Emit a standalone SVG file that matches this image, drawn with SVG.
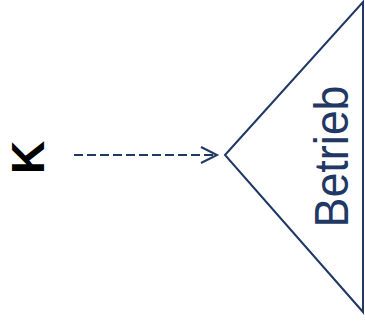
<svg xmlns="http://www.w3.org/2000/svg" width="365" height="324" viewBox="0 0 365 324">
<style>
.ln{stroke:#1f3864;stroke-width:2;fill:none}
.lbl{font-family:"Liberation Sans",Arial,sans-serif}
</style>
<defs>
<marker id="ah" markerWidth="20" markerHeight="20" refX="17" refY="9" orient="auto" markerUnits="userSpaceOnUse">
<path d="M1,1 L17,9 L1,17" class="ln"/>
</marker>
</defs>
<g id="k">
<text class="lbl" font-size="46" font-weight="bold" fill="#000" transform="translate(44,157.5) rotate(-90)" text-anchor="middle">K</text>
</g>
<g id="betrieb">
<polygon class="ln" points="225,155 363,2 363,312"/>
<text class="lbl" font-size="49" fill="#1f3864" transform="translate(348,156.5) rotate(-90)" text-anchor="middle" textLength="142" lengthAdjust="spacingAndGlyphs">Betrieb</text>
</g>
<g id="connectors">
<line class="ln" x1="74" y1="155" x2="217" y2="155" stroke-dasharray="9,4" marker-end="url(#ah)"/>
</g>
</svg>
